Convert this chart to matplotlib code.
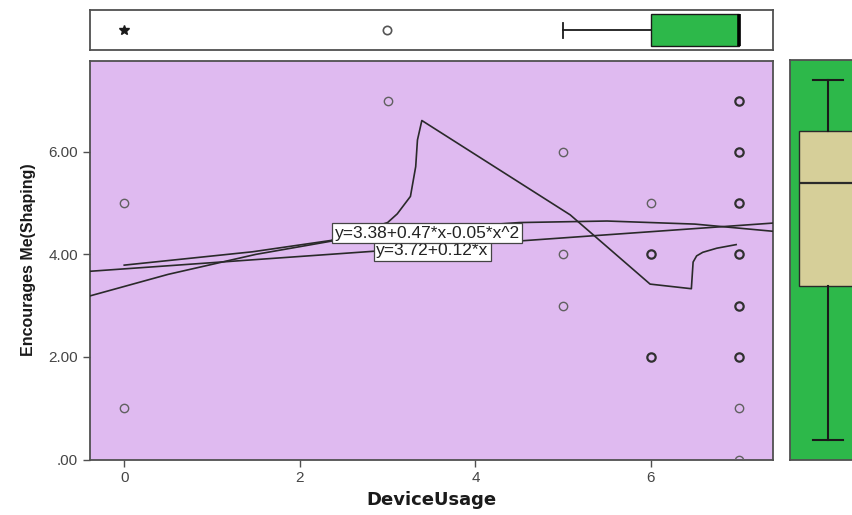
import matplotlib
matplotlib.use('Agg')
import matplotlib.pyplot as plt

plt.rcParams['font.family'] = ['Liberation Sans', 'DejaVu Sans']

# Observed responses (DeviceUsage, Encourages Me(Shaping))
usage = [0, 0, 3, 5, 5, 5, 6, 6, 6, 7, 7, 7, 7, 7, 7, 7, 7]
shaping = [5, 1, 7, 6, 4, 3, 5, 4, 2, 7, 6, 5, 4, 3, 2, 1, 0]
stacked = [0, 0, 0, 0, 0, 0, 0, 1, 1, 1, 1, 1, 1, 1, 1, 0, 0]  # heavier rings = repeated answers

# Fit lines
lin_x = [-0.39, 7.39]
lin_y = [3.67, 4.61]
quad_x = [-0.39, 0.5, 1.5, 2.5, 3.5, 4.5, 5.5, 6.5, 7.39]
quad_y = [3.19, 3.61, 4.00, 4.30, 4.50, 4.62, 4.65, 4.59, 4.45]
loess_x = [0, 1.46, 2.35, 3.0, 3.11, 3.26, 3.32, 3.34, 3.39, 5.08, 5.99, 6.46,
           6.48, 6.52, 6.59, 6.75, 6.97]
loess_y = [3.79, 4.05, 4.27, 4.62, 4.79, 5.13, 5.71, 6.23, 6.61, 4.77, 3.42, 3.33,
           3.85, 3.97, 4.04, 4.12, 4.19]
quad_label = 'y=3.38+0.47*x-0.05*x^2'
lin_label = 'y=3.72+0.12*x'

# Marginal box plots
usage_box = dict(whislo=5, q1=6, med=7, q3=7, whishi=7)
usage_outlier = [3]
usage_extreme = [0]
shaping_box = dict(whislo=0, q1=3, med=5, q3=6, whishi=7)

x_ticks = [0, 2, 4, 6]
y_ticks = [0, 2, 4, 6]
y_ticklabels = ['.00', '2.00', '4.00', '6.00']

lavender = '#dfbaf0'
green = '#2db84a'
tan = '#d6cf99'
edge = '#505050'
line_c = '#2a2a2a'

W, H = 852, 515
fig = plt.figure(figsize=(W / 100, H / 100), dpi=100)
ax = fig.add_axes([90 / W, 1 - 459.5 / H, 683 / W, 399 / H])
ax_top = fig.add_axes([89.5 / W, 1 - 50 / H, 683.5 / W, 40 / H])
ax_right = fig.add_axes([790 / W, 1 - 460 / H, 76 / W, 400 / H])

# main scatter panel
ax.set_facecolor(lavender)
for x, y, s in zip(usage, shaping, stacked):
    ax.plot(x, y, 'o', ms=6, mfc='none', mec='#303030' if s else '#606060',
            mew=1.6 if s else 1.0, zorder=3, clip_on=True)
ax.plot(lin_x, lin_y, color=line_c, lw=1.2, zorder=4)
ax.plot(quad_x, quad_y, color=line_c, lw=1.2, zorder=4)
ax.plot(loess_x, loess_y, color=line_c, lw=1.2, zorder=4)

box_kw = dict(boxstyle='square,pad=0.15', fc='white', ec='#444444', lw=0.9)
ax.text(3.51, 4.07, lin_label, ha='center', va='center', fontsize=12.5,
        color='#222222', bbox=box_kw, zorder=5)
ax.text(3.45, 4.41, quad_label, ha='center', va='center', fontsize=12.5,
        color='#222222', bbox=box_kw, zorder=6)

ax.set_xlim(-0.39, 7.39)
ax.set_ylim(0, 7.78)
ax.set_xticks(x_ticks)
ax.set_xticklabels([str(t) for t in x_ticks])
ax.set_yticks(y_ticks)
ax.set_yticklabels(y_ticklabels)
ax.tick_params(axis='both', direction='out', length=5, width=1.0, color=edge,
               labelcolor='#454545', labelsize=11)
for sp in ax.spines.values():
    sp.set_color(edge)
    sp.set_linewidth(1.3)
ax.set_xlabel('DeviceUsage', fontsize=13, fontweight='bold', labelpad=4,
              family='DejaVu Sans', color='#1a1a1a')
ax.set_ylabel('Encourages Me(Shaping)', fontsize=11.5, fontweight='bold', labelpad=9,
              color='#1a1a1a')

# top marginal box plot (DeviceUsage)
ax_top.bxp([usage_box], positions=[0], widths=0.95, orientation='horizontal',
           showfliers=False, patch_artist=True, capwidths=0.45,
           boxprops=dict(facecolor=green, edgecolor='#1a1a1a', lw=1.0),
           whiskerprops=dict(color='#1a1a1a', lw=1.3),
           capprops=dict(color='#1a1a1a', lw=1.3),
           medianprops=dict(color='black', lw=2.6))
ax_top.plot(usage_outlier, [0] * len(usage_outlier), 'o', ms=6, mfc='white',
            mec='#555555', mew=1.2)
ax_top.plot(usage_extreme, [0] * len(usage_extreme), '*', ms=7, color='#1a1a1a')
ax_top.set_xlim(-0.39, 7.39)
ax_top.set_ylim(-0.6, 0.6)
ax_top.set_xticks([])
ax_top.set_yticks([])
for sp in ax_top.spines.values():
    sp.set_color(edge)
    sp.set_linewidth(1.3)

# right marginal box plot (Encourages Me)
ax_right.set_facecolor(green)
ax_right.bxp([shaping_box], positions=[0], widths=0.93, showfliers=False,
             patch_artist=True, capwidths=0.46,
             boxprops=dict(facecolor=tan, edgecolor='#2a2a2a', lw=1.0),
             whiskerprops=dict(color='#1a1a1a', lw=1.5),
             capprops=dict(color='#1a1a1a', lw=1.5),
             medianprops=dict(color='#2a2a2a', lw=1.6))
ax_right.set_xlim(-0.6, 0.6)
ax_right.set_ylim(-0.39, 7.39)
ax_right.set_xticks([])
ax_right.set_yticks([])
for sp in ax_right.spines.values():
    sp.set_color(edge)
    sp.set_linewidth(1.3)

fig.savefig('out.png', dpi=100)
